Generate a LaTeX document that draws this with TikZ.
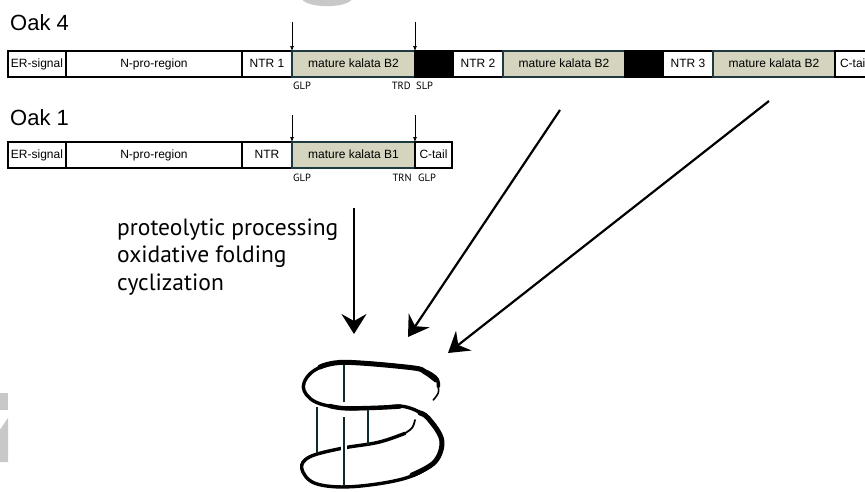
\documentclass[tikz,border=0pt]{standalone}
\usepackage{fontspec}
\setmainfont{Liberation Sans}
\newfontfamily\procfont{PT Sans}
\usetikzlibrary{arrows.meta,calc}
\definecolor{matfill}{HTML}{D4D4BF}
\definecolor{matedge}{HTML}{1C3A40}
\definecolor{bridge}{HTML}{0F2A2A}
\definecolor{edgegrey}{HTML}{C8C8C8}

\begin{document}
\begin{tikzpicture}[x=1pt,y=-1pt,
  seg/.style={draw=black, line width=1.4pt, fill=white, minimum height=26pt,
    inner sep=0pt, outer sep=0pt, anchor=west, text height=9pt, text depth=3pt,
    font=\fontsize{12}{12}\selectfont},
  mature/.style={seg, fill=matfill, draw=matedge, line width=1.1pt},
  spacer/.style={seg, fill=black},
  cut/.style={-{Latex[length=5pt,width=4pt]}, line width=0.7pt},
  site/.style={font=\procfont\fontsize{10.5}{11}\selectfont, anchor=base west, inner sep=0pt},
  oak/.style={font=\fontsize{22}{22}\selectfont, anchor=base west, inner sep=0pt},
  proc/.style={font=\procfont\fontsize{23.5}{27}\selectfont, anchor=base west, inner sep=0pt},
  fold/.style={line width=2.2pt, -{Stealth[length=20pt,width=25pt,inset=7pt]}},
  band/.style={line cap=round, line join=round},
  disulfide/.style={draw=bridge, line width=2.6pt}
]
\clip (0,0) rectangle (865,491);
\fill[white] (0,0) rectangle (865,491);

% faint grey marks at the edges
\fill[edgegrey] (302,-1) .. controls (307,8.5) and (347,8.5) .. (352,-1) -- cycle;
\fill[edgegrey] (-1,393) rectangle (8,410);
\fill[edgegrey] (-1,431) -- (8,418) -- (8,462) -- (-1,462) -- cycle;

% ---------- Oak 4 precursor ----------
\node[oak] (oak4) at (10,30) {Oak 4};
\node[seg, minimum width=58pt]  (er4)  at (8,64)     {ER-signal};
\node[seg, minimum width=176pt] (np4)  at (er4.east) {N-pro-region};
\node[seg, minimum width=50pt]  (ntr1) at (np4.east) {NTR 1};
\node[mature, minimum width=123pt] (mat1) at (ntr1.east) {mature kalata B2};
\node[spacer, minimum width=38pt] (sp1) at (mat1.east) {};
\node[seg, minimum width=50pt]  (ntr2) at (sp1.east) {NTR 2};
\node[mature, minimum width=122pt] (mat2) at (ntr2.east) {mature kalata B2};
\node[spacer, minimum width=38pt] (sp2) at (mat2.east) {};
\node[seg, minimum width=50pt]  (ntr3) at (sp2.east) {NTR 3};
\node[mature, minimum width=122pt] (mat3) at (ntr3.east) {mature kalata B2};
\node[seg, minimum width=38pt]  (ct4)  at (mat3.east) {C-tail};

\coordinate (c4a) at ($(mat1.north west)+(0,-29)$);
\coordinate (c4b) at ($(mat1.north east)+(0,-29)$);
\draw[cut] (c4a) -- (mat1.north west);
\draw[cut] (c4b) -- (mat1.north east);

\node[site] (glp4) at (293,89) {GLP};
\node[site, anchor=base east] (trd4) at (411,89) {TRD};
\node[site] (slp4) at (416,89) {SLP};

% ---------- Oak 1 precursor ----------
\node[oak] (oak1) at (10,125) {Oak 1};
\node[seg, minimum width=58pt]  (er1)  at (8,155)    {ER-signal};
\node[seg, minimum width=176pt] (np1)  at (er1.east) {N-pro-region};
\node[seg, minimum width=50pt]  (ntr)  at (np1.east) {NTR};
\node[mature, minimum width=123pt] (matb1) at (ntr.east) {mature kalata B1};
\node[seg, minimum width=37pt]  (ct1)  at (matb1.east) {C-tail};

\coordinate (c1a) at ($(matb1.north west)+(0,-27)$);
\coordinate (c1b) at ($(matb1.north east)+(0,-27)$);
\draw[cut] (c1a) -- (matb1.north west);
\draw[cut] (c1b) -- (matb1.north east);

\node[site] (glp1) at (293,181.5) {GLP};
\node[site, anchor=base east] (trn1) at (412,181.5) {TRN};
\node[site] (glp1b) at (418,181.5) {GLP};

% ---------- processing ----------
\node[proc] (pr1) at (117,235) {proteolytic processing};
\node[proc] (pr2) at (117,262.5) {oxidative folding};
\node[proc] (pr3) at (117,290) {cyclization};

\coordinate (s1) at (354,208);
\coordinate (s2) at (560,110);
\coordinate (s3) at (769,101);
\coordinate (t1) at (354,334);
\coordinate (t2) at (408,337);
\coordinate (t3) at (448,353);
\draw[fold] (s1) -- (t1);
\draw[fold] (s2) -- (t2);
\draw[fold] (s3) -- (t3);

% ---------- cyclic knotted backbone ----------
\draw[band, line width=3.4pt] plot[smooth, tension=0.6] coordinates {
  (438.3,386.7) (435,376.7) (411.7,367.7) (345,362.3) (315,370) (303.3,386.7)
  (315,401.7) (345,408.3) (378.3,407.7) (405,406.7) (428.3,418.3) (441.7,440)
  (435,461.7) (405,478.3) (351.7,486.7) (315,483.3) (301.7,468.3) (310,456.7)
  (341.7,448.3) (378.3,442.3) (405,433.3)};
\draw[band, line width=5pt] plot[smooth, tension=0.6] coordinates {
  (436,380) (425,372) (411.7,367.7) (345,362.3) (320,367)};
\draw[band, line width=5pt] plot[smooth, tension=0.6] coordinates {
  (420,413) (428.3,418.3) (441.7,440) (435,461.7) (412,475)};
\draw[band, line width=4.4pt] plot[smooth, tension=0.6] coordinates {
  (330,406) (345,408.3) (378.3,407.7) (400,406.5)};
\draw[band, line width=1.6pt] (438.3,386.7) .. controls (439,393) .. (433.3,400);
\draw[band, line width=1.8pt] (405,433.3) .. controls (413,428) .. (415,420);

% cross-links
\draw[disulfide] (317,407) -- (317,453);
\draw[disulfide] (368,410) -- (368,445);
\draw[disulfide] (344,365) -- (344,402);
\draw[white, line width=6pt] (344,440) -- (344,457);
\draw[disulfide] (344,417) -- (344,486);
\end{tikzpicture}
\end{document}
